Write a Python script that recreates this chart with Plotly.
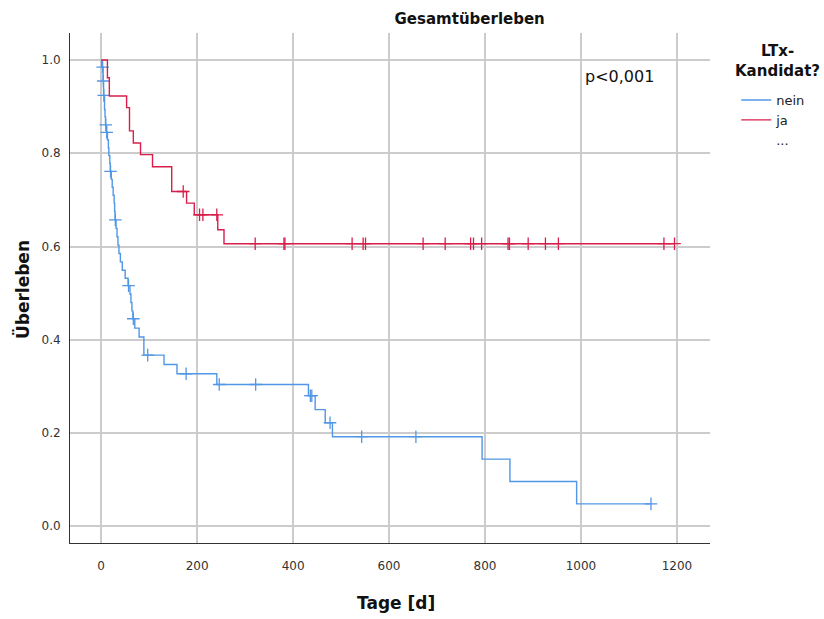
import numpy as np
import plotly.graph_objects as go

# Kaplan-Meier step curves (time in days, survival after step)
nein_t = [0, 1, 4, 5, 7, 8, 9, 11, 13, 15, 16, 18, 19, 21, 23, 25, 27, 28, 29, 31, 33, 35, 37, 40, 44, 50, 56,
          60, 62, 64, 66, 70, 79, 89, 131, 158, 241, 432, 446, 467, 482, 794, 852, 991]
nein_s = [1.0, 0.985, 0.955, 0.924, 0.894, 0.878, 0.861, 0.845, 0.829, 0.812, 0.795, 0.778, 0.761, 0.744, 0.727,
          0.710, 0.693, 0.675, 0.657, 0.639, 0.621, 0.603, 0.585, 0.567, 0.549, 0.532, 0.516,
          0.498, 0.480, 0.462, 0.445, 0.425, 0.406, 0.367, 0.347, 0.327, 0.304, 0.280, 0.250, 0.222, 0.192,
          0.144, 0.096, 0.048]
nein_censor = [3, 4.5, 5.5, 9.5, 11.5, 19.5, 29.5, 57, 67, 97, 177, 246, 322, 436, 439, 477, 543, 656, 1146]

ja_t = [0, 13, 17, 53, 59, 67, 82, 107, 147, 178, 194, 243, 256]
ja_s = [1.0, 0.962, 0.923, 0.898, 0.848, 0.822, 0.797, 0.771, 0.718, 0.693, 0.668, 0.636, 0.606]
ja_censor = [171, 205, 212, 241, 321, 381, 383, 523, 546, 551, 671, 717, 770, 776, 793, 848, 851, 890, 926,
             953, 1173, 1195]

groups = ["nein", "ja"]
colors = {"nein": "#5297e5", "ja": "#d81e4b"}

x_ticks = [0, 200, 400, 600, 800, 1000, 1200]
y_ticks = [0.0, 0.2, 0.4, 0.6, 0.8, 1.0]

FONT = "DejaVu Sans, Liberation Sans, sans-serif"


def surv_at(times, surv, t):
    idx = np.searchsorted(np.array(times), t, side="right") - 1
    return [surv[i] for i in idx]


fig = go.Figure()
data = {
    "nein": (nein_t, nein_s, nein_censor),
    "ja": (ja_t, ja_s, ja_censor),
}
for g in groups:
    t, s, c = data[g]
    end = max(c)
    fig.add_trace(go.Scatter(
        x=list(t) + [end], y=list(s) + [s[-1]], mode="lines", line_shape="hv",
        line=dict(color=colors[g], width=1.4), name=g, legendgroup=g, showlegend=True,
    ))
    fig.add_trace(go.Scatter(
        x=c, y=surv_at(t, s, c), mode="markers",
        marker=dict(symbol="cross-thin", size=9, line=dict(color=colors[g], width=1.3)),
        legendgroup=g, showlegend=False, hoverinfo="x+y",
    ))

# placeholder legend entry
fig.add_trace(go.Scatter(x=[None], y=[None], mode="lines", name="...",
                         line=dict(color="rgba(0,0,0,0)"), showlegend=True))

fig.update_layout(
    width=824, height=619,
    margin=dict(l=70, r=114, t=33, b=76, autoexpand=False),
    plot_bgcolor="white", paper_bgcolor="white",
    font=dict(family=FONT, color="#222"),
    title=dict(text="<b>Gesamtüberleben</b>", x=0.570, xanchor="center", y=0.970, yanchor="middle",
               font=dict(size=15, color="#111")),
    showlegend=True,
    legend=dict(
        x=1.041, xanchor="left", y=0.898, yanchor="top",
        font=dict(size=13, color="#222"), bgcolor="rgba(0,0,0,0)", tracegroupgap=0,
        itemwidth=30,
    ),
    xaxis=dict(
        range=[-65, 1269], tickvals=x_ticks, ticktext=[str(v) for v in x_ticks],
        showgrid=True, gridcolor="#cccccc", gridwidth=1.5, zeroline=False,
        showline=True, linecolor="#333", linewidth=1, ticks="",
        tickfont=dict(size=12, color="#333"), ticklabelstandoff=12,
    ),
    yaxis=dict(
        range=[-0.036, 1.058], tickvals=y_ticks, ticktext=[f"{v:.1f}" for v in y_ticks],
        showgrid=True, gridcolor="#cccccc", gridwidth=1.5, zeroline=False,
        showline=True, linecolor="#333", linewidth=1, ticks="",
        tickfont=dict(size=12, color="#333"), ticklabelstandoff=6,
    ),
    annotations=[
        dict(text="<b>LTx-<br>Kandidat?</b>", x=1.106, y=0.945, xref="paper", yref="paper", showarrow=False,
             align="center", font=dict(size=15, color="#111"), xanchor="center", yanchor="middle"),
        dict(text="p<0,001", x=0.858, y=0.914, xref="paper", yref="paper", showarrow=False,
             font=dict(size=16, color="#111"), xanchor="center", yanchor="middle"),
        dict(text="<b>Tage [d]</b>", x=0.509, y=-0.118, xref="paper", yref="paper", showarrow=False,
             font=dict(size=17, color="#111"), xanchor="center", yanchor="middle"),
        dict(text="<b>Überleben</b>", x=-0.075, y=0.496, xref="paper", yref="paper", showarrow=False,
             textangle=-90, font=dict(size=17, color="#111"), xanchor="center", yanchor="middle"),
    ],
)

fig.write_html("out.html")
